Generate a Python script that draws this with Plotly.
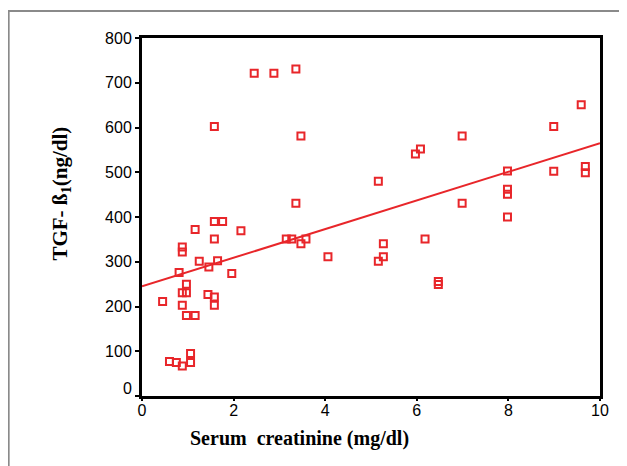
import plotly.graph_objects as go

# Data
creatinine = [0.45, 0.6, 0.75, 0.88, 1.06, 1.06, 0.81, 0.88, 0.88, 0.88, 0.97, 0.97, 0.88, 0.97, 1.16,
              1.16, 1.25, 1.44, 1.46, 1.58, 1.58, 1.76, 1.58, 1.65, 1.58, 1.58, 1.96, 2.16, 2.45, 2.88,
              3.36, 3.47, 3.36, 3.15, 3.27, 3.47, 3.58, 4.06, 5.16, 5.16, 5.27, 5.27, 5.97, 6.08, 6.18,
              6.47, 6.47, 6.99, 6.99, 7.98, 7.98, 7.98, 7.98, 8.99, 8.99, 9.59, 9.68, 9.68]
tgf_b1 = [211, 77, 75, 67, 95, 75, 276, 333, 322, 231, 231, 250, 203, 180, 180,
          372, 301, 227, 288, 602, 390, 390, 351, 302, 221, 203, 274, 369, 721, 721,
          731, 581, 431, 351, 351, 340, 351, 311, 480, 301, 311, 340, 541, 552, 351,
          256, 249, 581, 431, 503, 462, 451, 400, 602, 502, 651, 513, 499]
fit_x = [0, 10]
fit_y = [245, 565]
x_ticks = [0, 2, 4, 6, 8, 10]
y_ticks = [0, 100, 200, 300, 400, 500, 600, 700, 800]
y_ticktext = [""] + [str(v) for v in y_ticks[1:]]
x_title = "Serum  creatinine (mg/dl)"
y_title = "TGF- ß<sub>1</sub>(ng/dl)"

RED = "#e8262a"
TICKFONT = dict(family="Liberation Sans, Arial", size=16, color="black")
TITLEFONT = dict(family="Liberation Serif, Times New Roman", color="black", weight="bold")

fig = go.Figure()
fig.add_trace(go.Scatter(x=fit_x, y=fit_y, mode="lines",
                         line=dict(color=RED, width=2), hoverinfo="skip", showlegend=False))
fig.add_trace(go.Scatter(x=creatinine, y=tgf_b1, mode="markers",
                         marker=dict(symbol="square-open", size=7, color=RED,
                                     line=dict(color=RED, width=2)),
                         showlegend=False))

OFF = 8  # default body margin of the page
L, R, T, B = 141.5 - OFF, 600 - OFF, 38 - OFF, 396 - OFF
W, H = 627 - OFF, 466 - OFF
pw, ph = R - L, B - T

axis_common = dict(showgrid=False, zeroline=False, showline=True, linecolor="black",
                   mirror=True, linewidth=3, ticks="outside", tickwidth=2, tickcolor="black",
                   tickfont=TICKFONT)

fig.update_xaxes(range=[0, 10], tickvals=x_ticks, ticklen=2, ticklabelstandoff=-4, **axis_common)
fig.update_yaxes(range=[0, 800], tickvals=y_ticks, ticktext=y_ticktext, ticklen=4, **axis_common)

# y tick label "0" drawn lifted above the corner, as in the reference
fig.add_annotation(xref="paper", yref="y", x=0, y=y_ticks[0], text=str(y_ticks[0]),
                   showarrow=False, xanchor="right", yanchor="middle",
                   xshift=-8, yshift=8, font=TICKFONT)

# axis titles
fig.add_annotation(xref="paper", yref="paper", x=(299 - OFF - L) / pw, y=(B - (438 - OFF)) / ph,
                   text=x_title, showarrow=False, xanchor="center", yanchor="middle",
                   font=dict(size=20, **TITLEFONT))
fig.add_annotation(xref="paper", yref="paper", x=(60 - OFF - L) / pw, y=(B - (194 - OFF)) / ph,
                   text=y_title, showarrow=False, xanchor="center", yanchor="middle",
                   textangle=-90, font=dict(size=21, **TITLEFONT))

# outer gray frame
fig.add_shape(type="rect", xref="paper", yref="paper",
              x0=(8 - OFF - L) / pw, x1=(660 - L) / pw,
              y0=(B - 500) / ph, y1=1 + (T - (11 - OFF)) / ph,
              line=dict(color="#8a8a8a", width=2), layer="below")

fig.update_layout(width=W, height=H, plot_bgcolor="white", paper_bgcolor="white",
                  margin=dict(l=L, r=W - R, t=T, b=H - B, autoexpand=False))

fig.write_html("out.html")
